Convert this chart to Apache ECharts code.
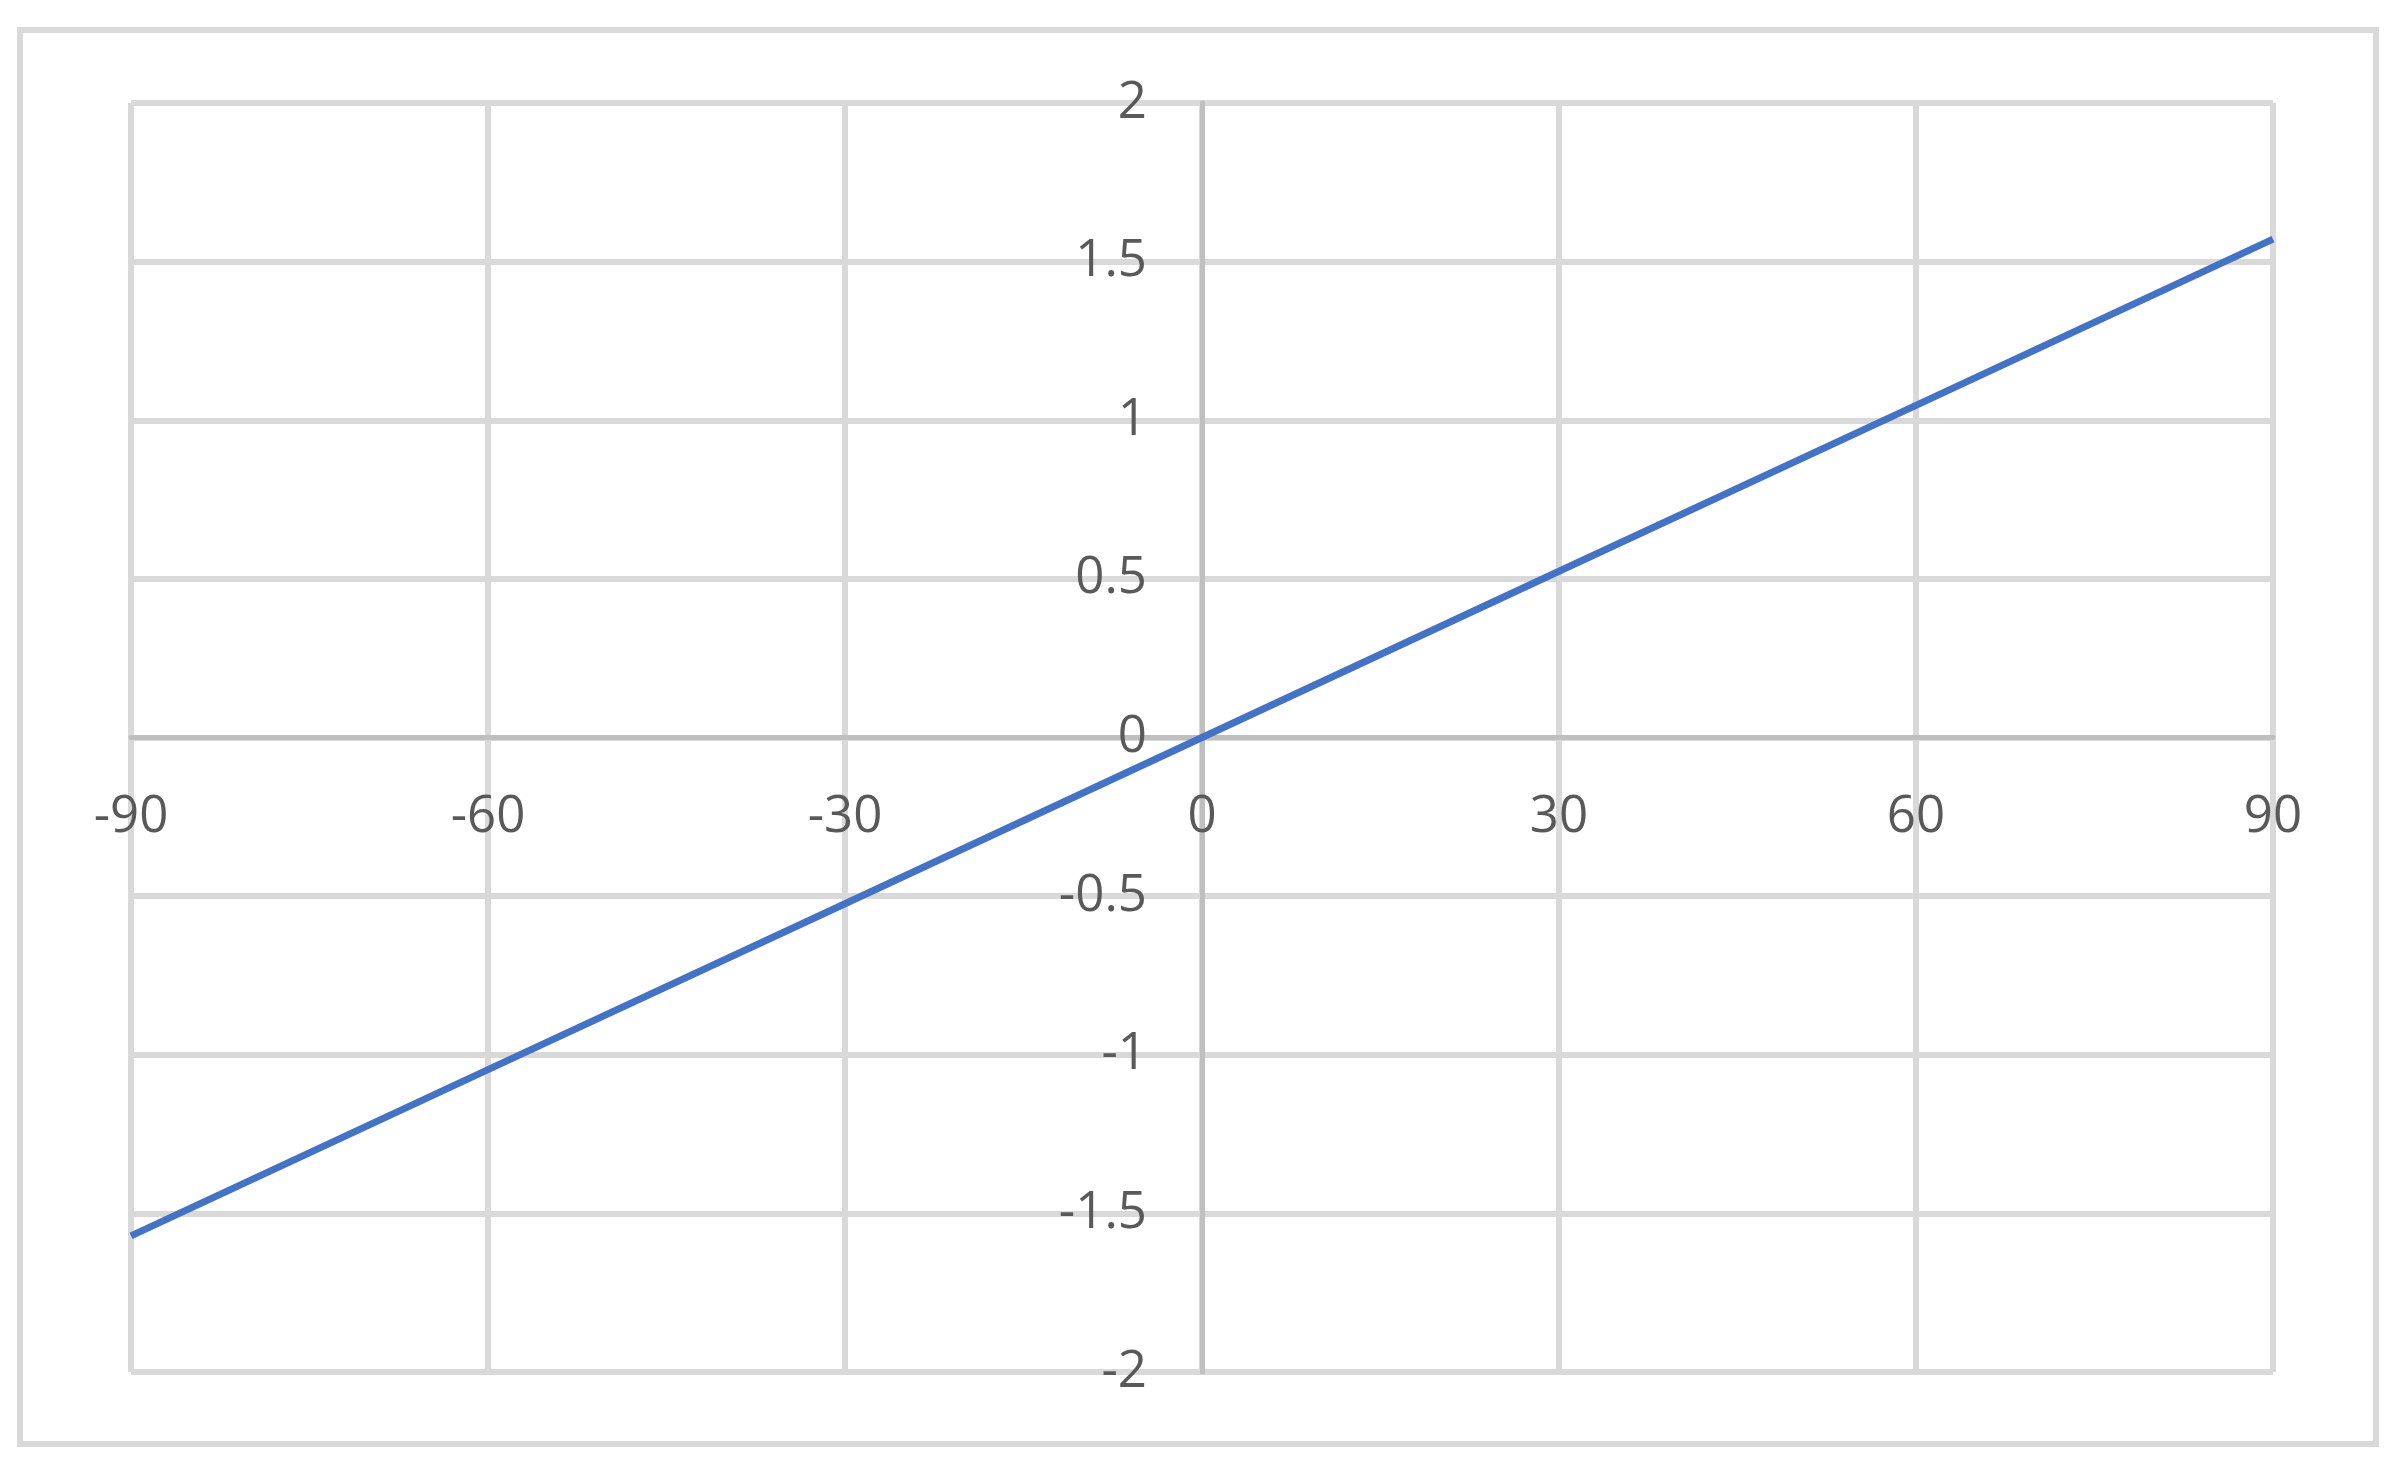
<!DOCTYPE html>
<html>
<head>
<meta charset="utf-8">
<script src="https://cdn.jsdelivr.net/npm/echarts@6/dist/echarts.min.js"></script>
<style>
html,body{margin:0;padding:0;background:#fff;}
#chart{width:2403px;height:1475px;}
</style>
</head>
<body>
<div id="chart"></div>
<script>
const degrees = [-90, -60, -30, 0, 30, 60, 90];
const radians = [-1.571, -1.047, -0.524, 0, 0.524, 1.047, 1.571];
const xTicks = { min: -90, max: 90, interval: 30 };
const yTicks = { min: -2, max: 2, interval: 0.5 };

const W = 2403, H = 1475;
const G = { left: 131, right: 130, top: 103, bottom: 103 };
const plotW = W - G.left - G.right, plotH = H - G.top - G.bottom;
// shift axes (line + labels) so they cross at the zero point
const xOffset = -plotH * (0 - yTicks.min) / (yTicks.max - yTicks.min);
const yOffset = -plotW * (0 - xTicks.min) / (xTicks.max - xTicks.min);

const chart = echarts.init(document.getElementById('chart'));
const labelStyle = { fontFamily: 'Open Sans', fontSize: 51, color: '#595959' };
chart.setOption({
  animation: false,
  backgroundColor: '#ffffff',
  graphic: [{
    type: 'rect',
    shape: { x: 20, y: 30, width: 2356, height: 1414 },
    style: { fill: 'none', stroke: '#d9d9d9', lineWidth: 6 },
    z: -1
  }],
  grid: { left: G.left, right: G.right, top: G.top, bottom: G.bottom, containLabel: false },
  xAxis: {
    type: 'value', position: 'bottom', offset: xOffset,
    min: xTicks.min, max: xTicks.max, interval: xTicks.interval,
    axisLine: { show: true, onZero: false, lineStyle: { color: '#bfbfbf', width: 5 } },
    axisTick: { show: false },
    axisLabel: Object.assign({ margin: 54, showMinLabel: true, showMaxLabel: true, hideOverlap: false }, labelStyle),
    splitLine: { show: true, lineStyle: { color: '#d9d9d9', width: 6 } }
  },
  yAxis: {
    type: 'value', position: 'left', offset: yOffset,
    min: yTicks.min, max: yTicks.max, interval: yTicks.interval,
    axisLine: { show: true, onZero: false, lineStyle: { color: '#bfbfbf', width: 5 } },
    axisTick: { show: false },
    axisLabel: Object.assign({ margin: 55, showMinLabel: true, showMaxLabel: true, hideOverlap: false }, labelStyle),
    splitLine: { show: true, lineStyle: { color: '#d9d9d9', width: 6 } }
  },
  series: [{
    type: 'line',
    data: degrees.map((d, i) => [d, radians[i]]),
    showSymbol: false,
    lineStyle: { color: '#4472c4', width: 7 },
    z: 5
  }]
});
</script>
</body>
</html>
